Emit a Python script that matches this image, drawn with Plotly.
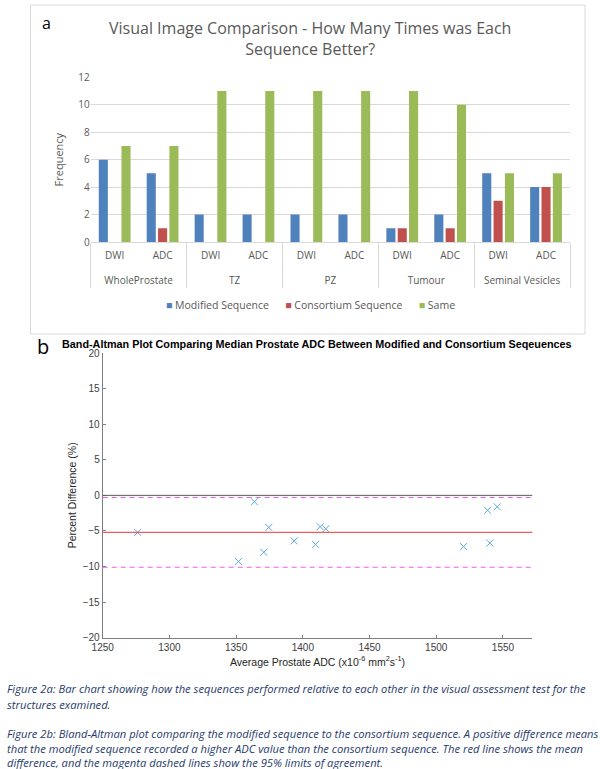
import plotly.graph_objects as go

# ---------------- Panel a data ----------------
structures = ["WholeProstate", "WholeProstate", "TZ", "TZ", "PZ", "PZ",
              "Tumour", "Tumour", "Seminal Vesicles", "Seminal Vesicles"]
sequences = ["DWI", "ADC"] * 5
modified = [6, 5, 2, 2, 2, 2, 1, 2, 5, 4]
consortium = [0, 1, 0, 0, 0, 0, 1, 1, 3, 4]
same = [7, 7, 11, 11, 11, 11, 11, 10, 5, 5]
freq_ticks = [0, 2, 4, 6, 8, 10, 12]
series_names = ["Modified Sequence", "Consortium Sequence", "Same"]
series_colors = ["#4F81BD", "#C0504D", "#9BBB59"]

# ---------------- Panel b data ----------------
avg_adc = [1276.2, 1351.7, 1363.7, 1370.7, 1374.5, 1393.5, 1409.5, 1413.0,
           1417.2, 1520.5, 1538.5, 1540.2, 1545.7]
pct_diff = [-5.2, -9.3, -0.9, -8.0, -4.5, -6.4, -6.9, -4.4, -4.7, -7.2,
            -2.1, -6.7, -1.6]
zero_line = 0
mean_diff = -5.2
loa_upper = -0.3
loa_lower = -10.1

W, H = 613, 769
def px(x): return x / W
def py(y): return 1 - y / H

fig = go.Figure()
# outer-level labels drawn one line lower, as in the reference
outer_labels = ["<br>" + s for s in structures]
xcat = [outer_labels, sequences]
for vals, name, col in zip([modified, consortium, same], series_names, series_colors):
    fig.add_trace(go.Bar(x=xcat, y=vals, name=name, showlegend=False,
                         marker=dict(color=col, line=dict(width=0)), xaxis="x", yaxis="y"))

fig.add_trace(go.Scatter(x=avg_adc, y=pct_diff, mode="markers", showlegend=False,
                         marker=dict(symbol="x-thin", size=7,
                                     line=dict(width=1, color="#5DAAE2")),
                         xaxis="x2", yaxis="y2"))

gray = "#595959"
fig.update_layout(
    width=W, height=H, margin=dict(l=0, r=0, t=0, b=0, autoexpand=False),
    paper_bgcolor="white", plot_bgcolor="white",
    barmode="group", bargap=0.29, bargroupgap=0.2,
    font=dict(family="Open Sans", size=10, color=gray),
    showlegend=False,
    xaxis=dict(type="multicategory", domain=[px(90.7), px(570)], anchor="y", automargin=False,
               showline=True, linecolor="#D9D9D9", linewidth=1,
               showdividers=True, dividercolor="#D9D9D9", dividerwidth=1,
               ticks="", ticklabelstandoff=4,
               tickfont=dict(family="Open Sans", size=10, color=gray),
               showgrid=False, fixedrange=True),
    yaxis=dict(domain=[py(242), py(77.3)], anchor="x", range=[0, 12], automargin=False,
               tickvals=freq_ticks, showgrid=True, gridcolor="#D9D9D9",
               zeroline=False, showline=False, ticks="",
               tickfont=dict(family="Open Sans", size=10, color=gray),
               title=dict(text="Frequency", font=dict(family="Open Sans", size=11, color=gray),
                          standoff=12)),
    xaxis2=dict(domain=[px(102.7), px(532.3)], anchor="y2", range=[1250, 1572], automargin=False,
                tickvals=[1250, 1300, 1350, 1400, 1450, 1500, 1550],
                showline=True, linecolor="#7F7F7F", linewidth=1, mirror=False,
                ticks="inside", ticklen=3, tickcolor="#7F7F7F",
                showgrid=False, zeroline=False,
                tickfont=dict(family="Liberation Sans", size=10, color="#404040"),
                title=dict(text="Average Prostate ADC (x10<sup>-6</sup> mm<sup>2</sup>s<sup>-1</sup>)",
                           font=dict(family="Liberation Sans", size=10.5, color="#262626"),
                           standoff=6)),
    yaxis2=dict(domain=[py(637.7), py(353)], anchor="x2", range=[-20, 20], automargin=False,
                tickvals=[-20, -15, -10, -5, 0, 5, 10, 15, 20],
                showline=True, linecolor="#7F7F7F", linewidth=1,
                ticks="inside", ticklen=3, tickcolor="#7F7F7F",
                showgrid=False, zeroline=False,
                tickfont=dict(family="Liberation Sans", size=10, color="#404040"),
                title=dict(text="Percent Difference (%)",
                           font=dict(family="Liberation Sans", size=10.5, color="#262626"),
                           standoff=4)),
)

magenta = "#F05CF0"
shapes = [
    dict(type="rect", xref="paper", yref="paper", x0=px(30.5), x1=px(585), y0=py(334), y1=py(5),
         line=dict(color="#D9D9D9", width=1), layer="below"),
    dict(type="line", xref="x2 domain", yref="y2", x0=0, x1=1, y0=loa_upper, y1=loa_upper,
         line=dict(color=magenta, width=1, dash="5px,4px")),
    dict(type="line", xref="x2 domain", yref="y2", x0=0, x1=1, y0=loa_lower, y1=loa_lower,
         line=dict(color=magenta, width=1, dash="5px,4px")),
    dict(type="line", xref="x2 domain", yref="y2", x0=0, x1=1, y0=zero_line, y1=zero_line,
         line=dict(color="#5A5A5A", width=1)),
    dict(type="line", xref="x2 domain", yref="y2", x0=0, x1=1, y0=mean_diff, y1=mean_diff,
         line=dict(color="#F25C5C", width=1.2)),
]
fig.update_layout(shapes=shapes)

legend_text = "&nbsp;&nbsp;&nbsp;&nbsp;&nbsp;&nbsp;".join(
    f"<span style='color:{c}'>■</span> {n}" for n, c in zip(series_names, series_colors))

cap_color = "#1F3A6B"
annos = [
    dict(text="a", x=px(46), y=py(23), xanchor="center", yanchor="middle",
         font=dict(family="Open Sans", size=16, color="black")),
    dict(text="Visual Image Comparison - How Many Times was Each<br>Sequence Better?",
         x=px(310), y=py(38), xanchor="center", yanchor="middle",
         font=dict(family="Open Sans", size=16, color=gray)),
    dict(text=legend_text, x=px(310), y=py(305), xanchor="center", yanchor="middle",
         font=dict(family="Open Sans", size=10.5, color=gray)),
    dict(text="b", x=px(43), y=py(346), xanchor="center", yanchor="middle",
         font=dict(family="Open Sans", size=20, color="black")),
    dict(text="<b>Band-Altman Plot Comparing Median Prostate ADC Between Modified and Consortium Seqeuences</b>",
         x=px(317), y=py(344), xanchor="center", yanchor="middle",
         font=dict(family="Liberation Sans", size=10.8, color="black")),
]
captions = [
    (688, "Figure 2a: Bar chart showing how the sequences performed relative to each other in the visual assessment test for the"),
    (704, "structures examined."),
    (733, "Figure 2b: Bland-Altman plot comparing the modified sequence to the consortium sequence. A positive difference means"),
    (748, "that the modified sequence recorded a higher ADC value than the consortium sequence. The red line shows the mean"),
    (762, "difference, and the magenta dashed lines show the 95% limits of agreement."),
]
for yy, t in captions:
    annos.append(dict(text="<i>" + t + "</i>", x=px(5), y=py(yy), xanchor="left", yanchor="middle",
                      font=dict(family="Open Sans", size=11.2, color=cap_color)))
for a in annos:
    a.update(xref="paper", yref="paper", showarrow=False)
fig.update_layout(annotations=annos)

fig.write_html("out.html", config={"displayModeBar": False},
               post_script="document.body.style.margin='0';document.body.style.overflow='hidden';")
